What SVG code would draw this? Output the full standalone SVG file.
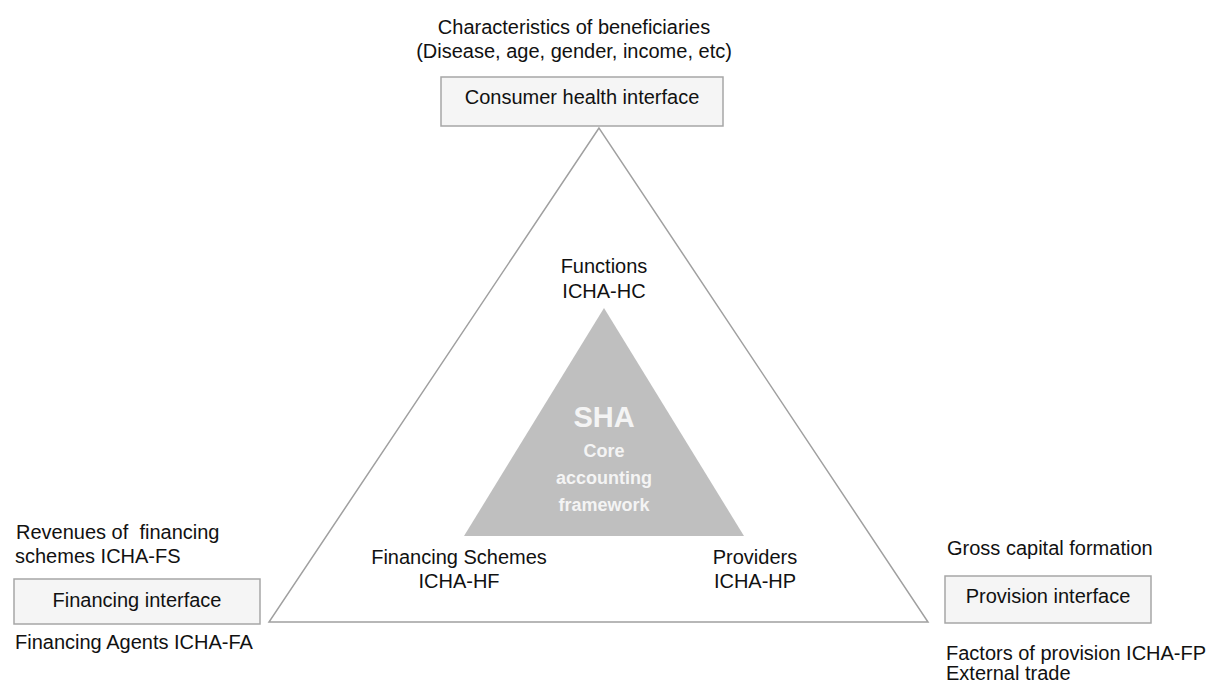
<svg xmlns="http://www.w3.org/2000/svg" width="1210" height="684" viewBox="0 0 1210 684">
<style>
text{font-family:"Liberation Sans",Arial,sans-serif;font-size:20px;fill:#111}
.c{text-anchor:middle}
.box{fill:#f5f5f5;stroke:#a6a6a6;stroke-width:1.5}
.w{fill:#f4f4f4;font-weight:bold;text-anchor:middle;font-size:18px}
</style>
<rect width="1210" height="684" fill="#fff"/>
<g id="connectors">
<polygon points="599,128 269,622 928,622" fill="none" stroke="#a0a0a0" stroke-width="1.5"/>
</g>
<g id="core">
<polygon points="604,308 464,536 744,536" fill="#bfbfbf"/>
<text class="w" x="604" y="427" style="font-size:29px">SHA</text>
<text class="w" x="604" y="457">Core</text>
<text class="w" x="604" y="484">accounting</text>
<text class="w" x="604" y="511">framework</text>
</g>
<g id="functions">
<text class="c" x="604" y="273">Functions</text>
<text class="c" x="604" y="298">ICHA-HC</text>
</g>
<g id="financing-schemes">
<text class="c" x="459" y="564">Financing Schemes</text>
<text class="c" x="459" y="588">ICHA-HF</text>
</g>
<g id="providers">
<text class="c" x="755" y="564">Providers</text>
<text class="c" x="755" y="588">ICHA-HP</text>
</g>
<g id="consumer">
<text class="c" x="574" y="34">Characteristics of beneficiaries</text>
<text class="c" x="574" y="58">(Disease, age, gender, income, etc)</text>
<rect class="box" x="441" y="77" width="282" height="49"/>
<text class="c" x="582" y="104">Consumer health interface</text>
</g>
<g id="financing">
<text x="16" y="539">Revenues of&#160; financing</text>
<text x="15" y="563">schemes ICHA-FS</text>
<rect class="box" x="14" y="579" width="246" height="45"/>
<text class="c" x="137" y="607">Financing interface</text>
<text x="15" y="649">Financing Agents ICHA-FA</text>
</g>
<g id="provision">
<text x="947" y="555">Gross capital formation</text>
<rect class="box" x="945" y="576" width="206" height="47"/>
<text class="c" x="1048" y="603">Provision interface</text>
<text x="946" y="660">Factors of provision ICHA-FP</text>
<text x="946" y="680">External trade</text>
</g>
</svg>
